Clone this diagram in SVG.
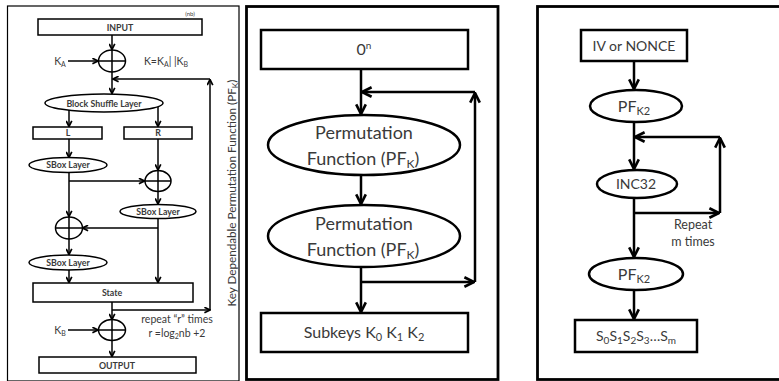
<svg xmlns="http://www.w3.org/2000/svg" width="779" height="381" viewBox="0 0 779 381">
<style>
.ln{fill:none;stroke:#000;stroke-width:1.5}
.lnb{fill:none;stroke:#000;stroke-width:2.5}
.sh{fill:#fff;stroke:#000;stroke-width:1.5}
.shb{fill:#fff;stroke:#000;stroke-width:2.5}
.t{font-family:Lato,"Liberation Sans",sans-serif;fill:#3a3a3a;text-anchor:middle}
.s8{font-size:8.8px;font-weight:bold}
.s10{font-size:10.5px}
.s18{font-size:18px}
.s16{font-size:16px}
.s14{font-size:14px}
</style>
<defs>
<marker id="as" viewBox="0 0 10 10" refX="9" refY="5" markerWidth="7" markerHeight="7" markerUnits="userSpaceOnUse" orient="auto"><path d="M1,1 L9,5 L1,9" fill="none" stroke="#000" stroke-width="2.4"/></marker>
<marker id="al" viewBox="0 0 10 10" refX="9" refY="5" markerWidth="12" markerHeight="12" markerUnits="userSpaceOnUse" orient="auto"><path d="M1,1 L9,5 L1,9" fill="none" stroke="#000" stroke-width="2.2"/></marker>
</defs>

<!-- panel frames -->
<rect x="7.5" y="6" width="231.5" height="375" fill="none" stroke="#000" stroke-width="1.2"/>
<rect x="246.5" y="6.5" width="251.5" height="373" fill="none" stroke="#000" stroke-width="2.8"/>
<rect x="537.5" y="6.5" width="245" height="373" fill="none" stroke="#000" stroke-width="2.8"/>

<!-- left panel connectors -->
<g id="connectors-left">
<path class="ln" d="M112,35 V49.5" marker-end="url(#as)"/>
<path class="ln" d="M68,61 H98" marker-end="url(#as)"/>
<path class="ln" d="M112,72 V93.5" marker-end="url(#as)"/>
<path class="ln" d="M210,79 H113" marker-end="url(#as)"/>
<path class="ln" d="M210,310 V79.5" marker-end="url(#as)"/>
<path class="ln" d="M69,110 V126.5" marker-end="url(#as)"/>
<path class="ln" d="M158,107 V126.5" marker-end="url(#as)"/>
<path class="ln" d="M69,139 V157.5" marker-end="url(#as)"/>
<path class="ln" d="M69,172 V216.5" marker-end="url(#as)"/>
<path class="ln" d="M69,181 H144.5" marker-end="url(#as)"/>
<path class="ln" d="M158,139 V170" marker-end="url(#as)"/>
<path class="ln" d="M158,191 V204" marker-end="url(#as)"/>
<path class="ln" d="M158,218 V282.5" marker-end="url(#as)"/>
<path class="ln" d="M158,228 H82.5" marker-end="url(#as)"/>
<path class="ln" d="M69,239 V254.5" marker-end="url(#as)"/>
<path class="ln" d="M69,270 V282.5" marker-end="url(#as)"/>
<path class="ln" d="M112,302 V319.5" marker-end="url(#as)"/>
<path class="ln" d="M112,310 H210" marker-end="url(#as)"/>
<path class="ln" d="M68,330 H98" marker-end="url(#as)"/>
<path class="ln" d="M112,340 V356.5" marker-end="url(#as)"/>
</g>

<!-- left panel nodes -->
<g id="input"><rect class="sh" x="38" y="19" width="164" height="16"/><text class="t s8" x="120" y="30.5">INPUT</text></g>
<text class="t" x="190" y="16" style="font-size:6px">(nb)</text>
<g id="xor1"><ellipse class="sh" cx="112" cy="61" rx="13.5" ry="11"/><path class="ln" d="M98.5,61 H125.5 M112,50 V72"/></g>
<text class="t s10" x="60" y="65">K<tspan font-size="7" dy="2">A</tspan></text>
<text class="t s10" x="166" y="65">K=K<tspan font-size="7" dy="2">A</tspan><tspan dy="-2">| |K</tspan><tspan font-size="7" dy="2">B</tspan></text>
<g id="block-shuffle"><ellipse class="sh" cx="104" cy="103" rx="59" ry="9"/><text class="t s8" x="104" y="106.5">Block Shuffle Layer</text></g>
<g id="L"><rect class="sh" x="33" y="127" width="69" height="12"/><text class="t s8" x="68" y="136.3">L</text></g>
<g id="R"><rect class="sh" x="124" y="127" width="68" height="12"/><text class="t s8" x="158" y="136.3">R</text></g>
<g id="sbox1"><ellipse class="sh" cx="68" cy="165" rx="39" ry="7.5"/><text class="t s8" x="68" y="168.3">SBox Layer</text></g>
<g id="xor2"><ellipse class="sh" cx="158" cy="181" rx="13" ry="10.5"/><path class="ln" d="M145,181 H171 M158,170.5 V191.5"/></g>
<g id="sbox2"><ellipse class="sh" cx="158" cy="211.5" rx="38" ry="7"/><text class="t s8" x="158" y="214.8">SBox Layer</text></g>
<g id="xor3"><ellipse class="sh" cx="69" cy="228" rx="13.5" ry="11"/><path class="ln" d="M55.5,228 H82.5 M69,217 V239"/></g>
<g id="sbox3"><ellipse class="sh" cx="68" cy="262.5" rx="39" ry="7.5"/><text class="t s8" x="68" y="265.8">SBox Layer</text></g>
<g id="state"><rect class="sh" x="33" y="283" width="160" height="19"/><text class="t s8" x="112" y="295.5">State</text></g>
<g id="xor4"><ellipse class="sh" cx="112" cy="330" rx="13.5" ry="10.5"/><path class="ln" d="M98.5,330 H125.5 M112,319.5 V340.5"/></g>
<text class="t s10" x="60" y="334">K<tspan font-size="7" dy="2">B</tspan></text>
<text class="t s10" x="177" y="323">repeat “r” times</text>
<text class="t s10" x="177" y="337">r =log<tspan font-size="7" dy="2">2</tspan><tspan dy="-2">nb +2</tspan></text>
<g id="output"><rect class="sh" x="39" y="357" width="157" height="16"/><text class="t s8" x="117" y="368.5">OUTPUT</text></g>
<text class="t s10" x="236" y="193" transform="rotate(-90 236 193)" textLength="227" lengthAdjust="spacingAndGlyphs">Key Dependable Permutation Function (PF<tspan font-size="7.5" dy="2">K</tspan><tspan dy="-2">)</tspan></text>

<!-- middle panel -->
<g id="connectors-mid">
<path class="lnb" d="M361,69 V114" marker-end="url(#al)"/>
<path class="lnb" d="M475,92 H362" marker-end="url(#al)"/>
<path class="lnb" d="M475,282 V93" marker-end="url(#al)"/>
<path class="lnb" d="M361,175 V204" marker-end="url(#al)"/>
<path class="lnb" d="M361,267 V312" marker-end="url(#al)"/>
<path class="lnb" d="M361,282 H474" marker-end="url(#al)"/>
</g>
<g id="zero"><rect class="shb" x="261" y="30" width="207" height="39"/><text class="t s16" x="364" y="55">0<tspan font-size="10" dy="-6">n</tspan></text></g>
<g id="pf1"><ellipse class="shb" cx="364" cy="145" rx="96" ry="30"/><text class="t s18" x="364" y="139">Permutation</text><text class="t s18" x="363" y="165">Function (PF<tspan font-size="12" dy="3">K</tspan><tspan dy="-3">)</tspan></text></g>
<g id="pf2"><ellipse class="shb" cx="364" cy="236" rx="96" ry="31"/><text class="t s18" x="364" y="230">Permutation</text><text class="t s18" x="363" y="256">Function (PF<tspan font-size="12" dy="3">K</tspan><tspan dy="-3">)</tspan></text></g>
<g id="subkeys"><rect class="shb" x="261" y="313" width="207" height="39"/><text class="t s16" x="364" y="338">Subkeys K<tspan font-size="11" dy="3">0</tspan><tspan dy="-3"> K</tspan><tspan font-size="11" dy="3">1</tspan><tspan dy="-3"> K</tspan><tspan font-size="11" dy="3">2</tspan></text></g>

<!-- right panel -->
<g id="connectors-right">
<path class="lnb" d="M634,61 V89" marker-end="url(#al)"/>
<path class="lnb" d="M634,122 V169" marker-end="url(#al)"/>
<path class="lnb" d="M720,137 H635" marker-end="url(#al)"/>
<path class="lnb" d="M720,213 V138" marker-end="url(#al)"/>
<path class="lnb" d="M634,198 V257" marker-end="url(#al)"/>
<path class="lnb" d="M634,213 H719" marker-end="url(#al)"/>
<path class="lnb" d="M634,290 V319" marker-end="url(#al)"/>
</g>
<g id="iv"><rect class="shb" x="581" y="30" width="106" height="31"/><text class="t s14" x="634" y="51">IV or NONCE</text></g>
<g id="pfk2a"><ellipse class="shb" cx="636" cy="106" rx="46" ry="16"/><text class="t s16" x="634" y="112">PF<tspan font-size="11" dy="3">K2</tspan></text></g>
<g id="inc32"><ellipse class="shb" cx="637" cy="184" rx="40" ry="14"/><text class="t s14" x="636" y="189">INC32</text></g>
<text class="t" x="693" y="229" style="font-size:12.5px">Repeat</text>
<text class="t" x="693" y="246" style="font-size:12.5px">m times</text>
<g id="pfk2b"><ellipse class="shb" cx="636" cy="274" rx="47" ry="16"/><text class="t s16" x="634" y="280">PF<tspan font-size="11" dy="3">K2</tspan></text></g>
<g id="sseq"><rect class="shb" x="575" y="320" width="122" height="32"/><text class="t s14" x="636" y="341">S<tspan font-size="10" dy="3">0</tspan><tspan dy="-3">S</tspan><tspan font-size="10" dy="3">1</tspan><tspan dy="-3">S</tspan><tspan font-size="10" dy="3">2</tspan><tspan dy="-3">S</tspan><tspan font-size="10" dy="3">3</tspan><tspan dy="-3">…S</tspan><tspan font-size="10" dy="3">m</tspan></text></g>
</svg>
